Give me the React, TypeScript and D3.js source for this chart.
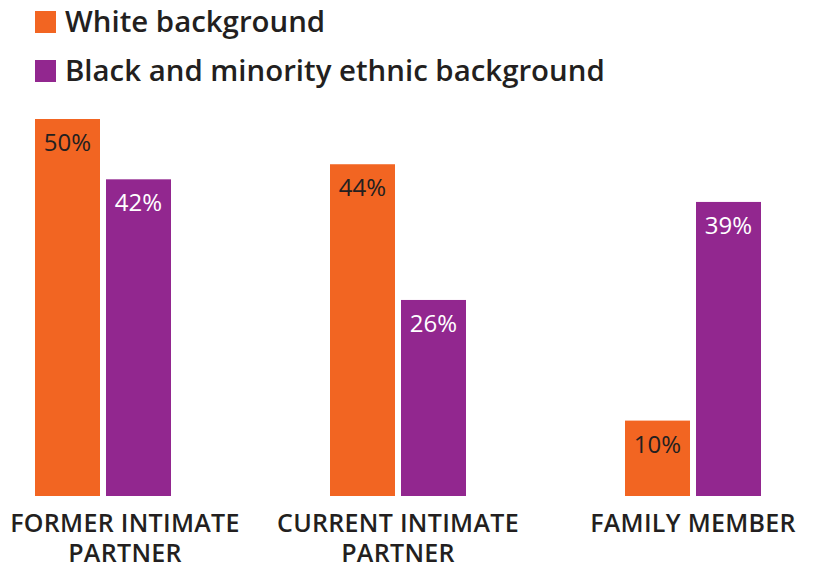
import React from "react";
import * as d3 from "d3";

const categories = ["FORMER INTIMATE PARTNER", "CURRENT INTIMATE PARTNER", "FAMILY MEMBER"];
const categoryLines = [["FORMER INTIMATE", "PARTNER"], ["CURRENT INTIMATE", "PARTNER"], ["FAMILY MEMBER"]];
const seriesNames = ["White background", "Black and minority ethnic background"];
const whiteValues = [50, 44, 10];
const bmeValues = [42, 26, 39];
const colors = ["#F26522", "#92278F"];
const labelColors = ["#231F20", "#FFFFFF"];

const W = 813;
const H = 566;
const FONT = "'Open Sans', 'Noto Sans', sans-serif";

export default function App() {
  const x = d3.scaleBand<string>().domain(categories).range([35, 761]).paddingInner(0.539).paddingOuter(0);
  const xi = d3.scaleBand<string>().domain(seriesNames).range([0, x.bandwidth()]).paddingInner(0.0845).paddingOuter(0);
  const y = d3.scaleLinear().domain([0, 50]).range([496, 119]);
  const series = [whiteValues, bmeValues];

  return (
    <svg width={W} height={H} style={{ position: "absolute", left: 0, top: 0, background: "#fff" }} fontFamily={FONT}>
      {seriesNames.map((s, i) => (
        <g key={s} transform={`translate(35, ${11 + i * 49})`}>
          <rect x={0} y={0} width={21} height={22} fill={colors[i]} />
          <text x={30} y={21} fontSize={29.4} fontWeight={600} fill="#231F20">{s}</text>
        </g>
      ))}
      {categories.map((c, ci) => (
        <g key={c} transform={`translate(${x(c)}, 0)`}>
          {seriesNames.map((s, si) => {
            const v = series[si][ci];
            const bx = xi(s)!;
            return (
              <g key={s}>
                <rect x={bx} y={y(v)} width={xi.bandwidth()} height={y(0) - y(v)} fill={colors[si]} />
                <text x={bx + xi.bandwidth() / 2} y={y(v) + 32} textAnchor="middle" fontSize={24} fill={labelColors[si]}>{v}%</text>
              </g>
            );
          })}
        </g>
      ))}
      {categories.map((c, ci) => {
        const cx = Math.max(x(c)! + x.bandwidth() / 2, 125);
        return (
          <text key={c} textAnchor="middle" fontSize={25} fontWeight={600} letterSpacing={0.3} fill="#231F20">
            {categoryLines[ci].map((l, li) => (
              <tspan key={li} x={cx} y={532 + li * 30}>{l}</tspan>
            ))}
          </text>
        );
      })}
    </svg>
  );
}
